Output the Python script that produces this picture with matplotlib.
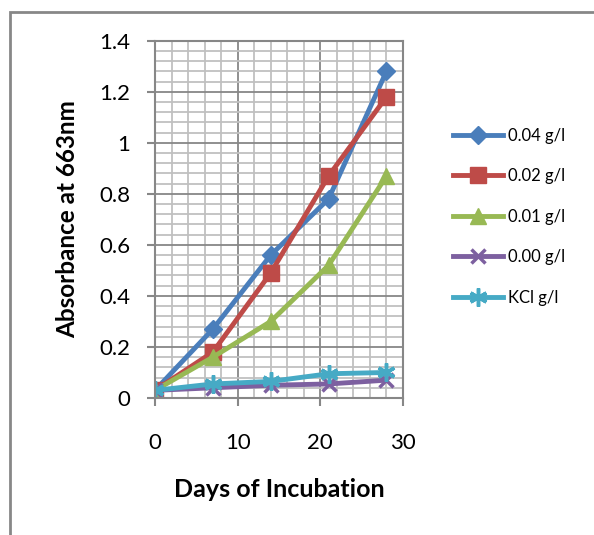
import matplotlib
matplotlib.use("Agg")
import matplotlib.pyplot as plt
from matplotlib.patches import Rectangle
from matplotlib.ticker import MultipleLocator

plt.rcParams['font.family'] = ['Lato', 'DejaVu Sans']

days = [0, 7, 14, 21, 28]
conc_labels = ['0.04 g/l', '0.02 g/l', '0.01 g/l', '0.00 g/l', 'KCl g/l']
abs_004 = [0.03, 0.27, 0.56, 0.78, 1.28]
abs_002 = [0.03, 0.18, 0.49, 0.87, 1.18]
abs_001 = [0.03, 0.16, 0.30, 0.52, 0.87]
abs_000 = [0.03, 0.04, 0.05, 0.055, 0.07]
abs_kcl = [0.03, 0.055, 0.065, 0.095, 0.10]
y_ticks = [0, 0.2, 0.4, 0.6, 0.8, 1.0, 1.2, 1.4]
y_tick_labels = ['0', '0.2', '0.4', '0.6', '0.8', '1', '1.2', '1.4']
x_ticks = [0, 10, 20, 30]

series = [abs_004, abs_002, abs_001, abs_000, abs_kcl]
colors = ['#4A7EBB', '#BE4B48', '#98B954', '#7D60A0', '#46AAC5']
markers = ['D', 's', '^', 'x', (6, 2, 0)]
msizes = [9, 11, 11, 10, 13]

fig = plt.figure(figsize=(5.94, 5.35), dpi=100)
fig.patches.append(Rectangle((10 / 594, -0.1), 1.2, 1 - 12 / 535 + 0.1,
                             transform=fig.transFigure, fill=False,
                             edgecolor='#878787', linewidth=2))
ax = fig.add_axes([155 / 594, 1 - 398 / 535, 248 / 594, 357.3 / 535])

for vals, lab, c, m, ms in zip(series, conc_labels, colors, markers, msizes):
    if m in ('D', 's', '^'):
        ax.plot(days, vals, color=c, lw=3.5, marker=m, ms=ms, mec=c, label=lab)
    else:
        ax.plot(days, vals, color=c, lw=3.5, marker=m, ms=ms, mew=2.5, label=lab)

ax.set_xlim(0, 30)
ax.set_ylim(0, 1.4)
ax.set_xticks(x_ticks)
ax.set_yticks(y_ticks)
ax.set_yticklabels(y_tick_labels)
ax.xaxis.set_minor_locator(MultipleLocator(2))
ax.yaxis.set_minor_locator(MultipleLocator(0.04))
ax.grid(which='major', color='#878787', lw=1.3)
ax.grid(which='minor', color='#C0C0C0', lw=1.3)
ax.set_axisbelow(True)
for s in ax.spines.values():
    s.set_color('#878787')
    s.set_linewidth(1.5)
ax.tick_params(which='major', length=6, width=1.5, color='#878787',
               labelsize=16)
ax.tick_params(axis='y', pad=12)
ax.tick_params(axis='x', pad=19)
ax.tick_params(which='minor', length=0)

ax.set_xlabel('Days of Incubation', fontsize=18, fontweight='bold', labelpad=18)
ax.set_ylabel('Absorbance at 663nm', fontsize=17.5, fontweight='bold', labelpad=14)

fig.legend(loc='upper left', bbox_to_anchor=(446 / 594, 1 - 121 / 535),
           frameon=False, fontsize=12, handlelength=3.0, labelspacing=1.47,
           borderaxespad=0, handletextpad=0.3)

fig.savefig('out.png', dpi=100)
